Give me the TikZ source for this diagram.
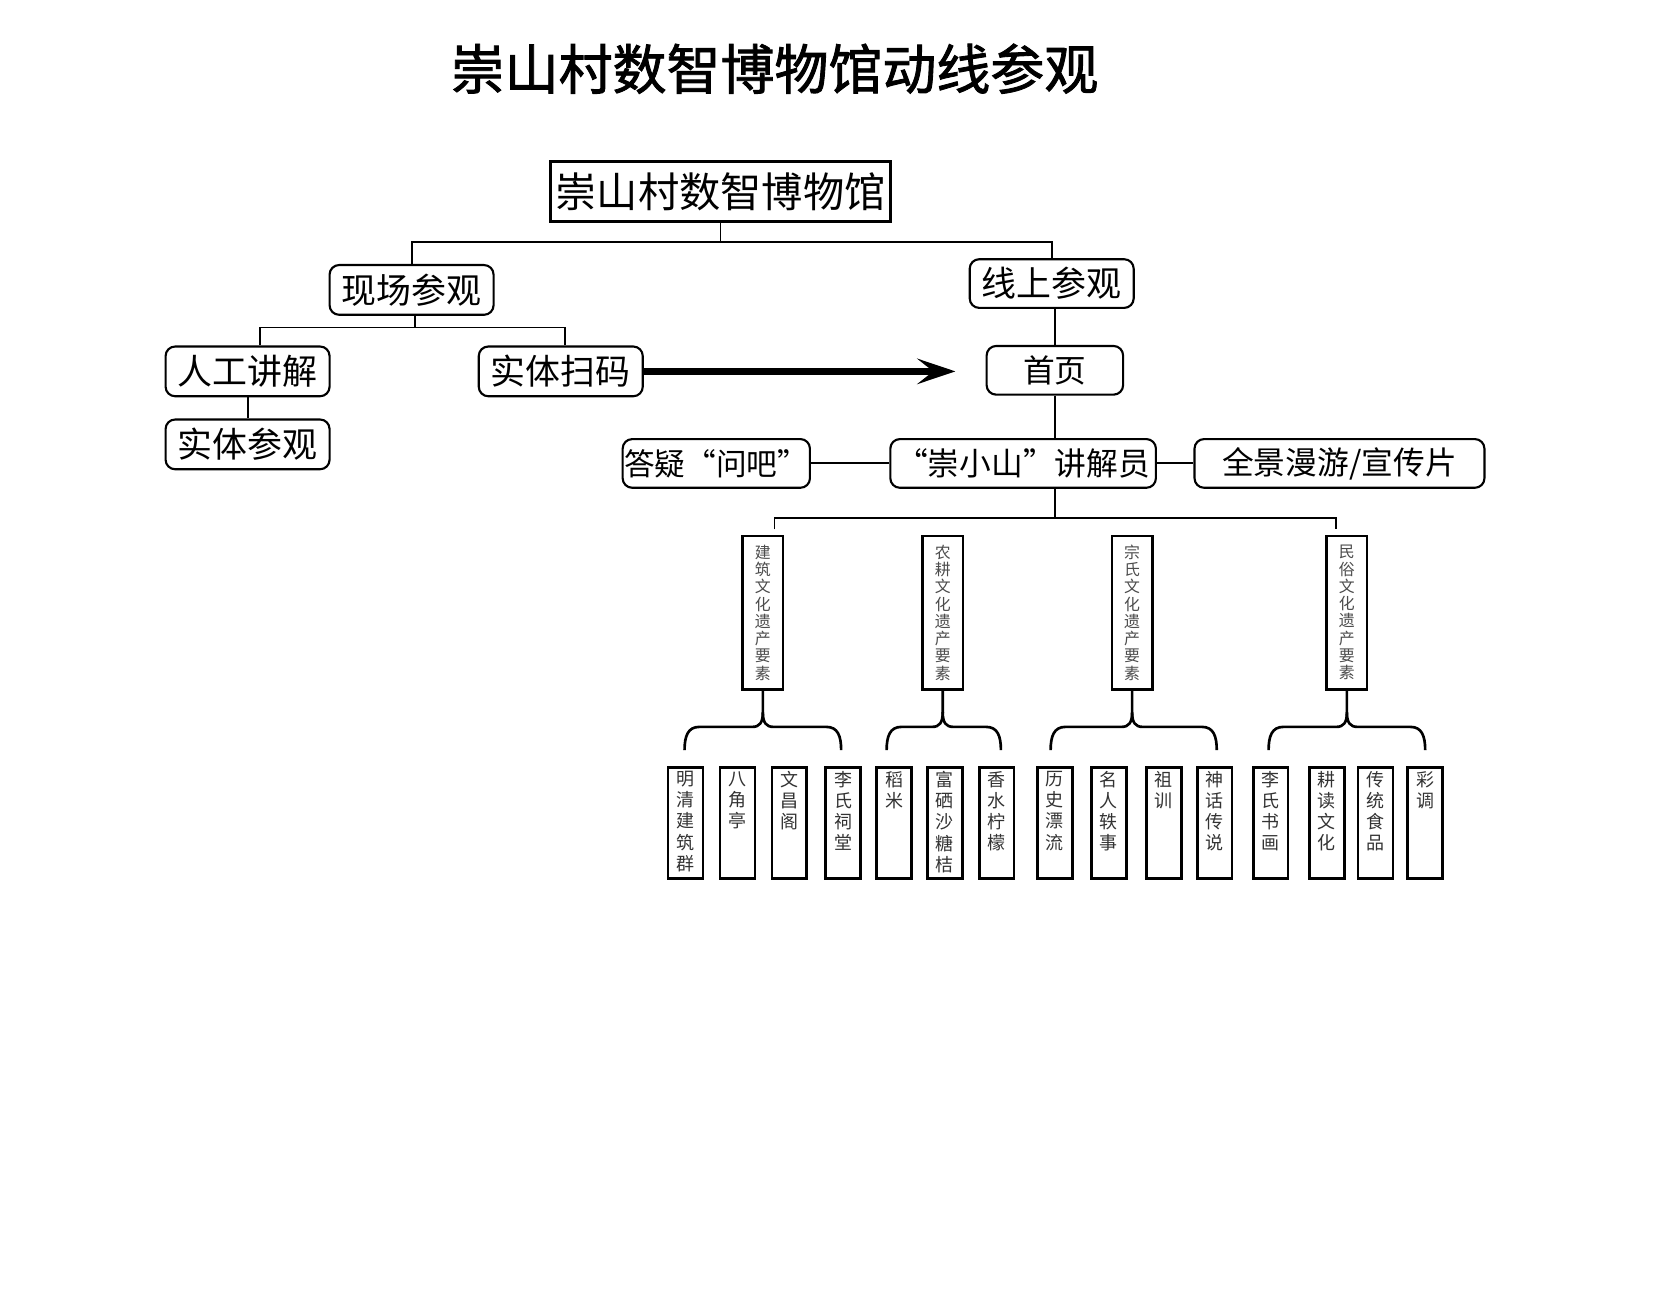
\documentclass[tikz,border=0pt]{standalone}
\usepackage{fontspec}
\usetikzlibrary{arrows.meta}
\newfontfamily\hei{Noto Sans CJK SC}
\newfontfamily\heititle[FakeBold=1.6]{Noto Sans CJK SC}
\newcommand{\leafcol}[1]{\parbox[c][98pt][t]{24pt}{\centering #1}}
\newcommand{\braceY}{687}

\tikzset{
  link/.style={line width=1.8pt},
  rbox/.style={draw, line width=2pt, rounded corners=9pt, inner sep=0pt, minimum width=155pt, minimum height=47pt, font=\hei\fontsize{33}{36}\selectfont},
  gbox/.style={rbox, minimum height=46pt, font=\hei\fontsize{30}{33}\selectfont},
  catbox/.style={draw, line width=2.5pt, minimum width=38pt, minimum height=145pt, inner sep=0pt, align=center, text=black!70, font=\hei\fontsize{15}{16.3}\selectfont},
  leafbox/.style={draw, line width=2.5pt, minimum width=33pt, minimum height=105pt, inner sep=0pt, text=black!80, font=\hei\fontsize{17}{20}\selectfont},
  brace/.style={line width=2.5pt},
  bigarrow/.style={line width=6pt, -{Stealth[length=36pt, width=24pt, inset=15pt]}},
}

\begin{document}
\begin{tikzpicture}[x=1pt, y=-1pt]
	\fill[white] (0,0) rectangle (1568,1227);
	\useasboundingbox (0,0) rectangle (1568,1227);

	% title
	\node[font=\heititle\fontsize{51}{56}\selectfont] (title) at (732,65) {崇山村数智博物馆动线参观};

	% top levels
	\node[draw, line width=3pt, inner sep=0pt, minimum width=322pt, minimum height=56pt, font=\hei\fontsize{39}{42}\selectfont] (museum) at (681,181) {崇山村数智博物馆};
	\node[rbox] (onsite) at (389,274) {现场参观};
	\node[rbox, minimum height=46pt] (online) at (994,268) {线上参观};
	\node[rbox] (manual) at (234,351) {人工讲解};
	\node[rbox] (physical) at (234,420) {实体参观};
	\node[rbox] (scan) at (530,351) {实体扫码};
	\node[gbox, minimum width=129pt] (home) at (997,350) {首页};
	\node[gbox, minimum width=251pt] (guide) at (967,438) {“崇小山”讲解员};
	\node[gbox, minimum width=177pt, font=\hei\fontsize{29}{32}\selectfont] (qa) at (677,438) {答疑“问吧”};
	\node[gbox, minimum width=274pt] (pano) at (1266,438) {全景漫游/宣传片};

	\draw[link] (museum.south) -- ++(0,18);
	\draw[link] (onsite.north) |- ([yshift=-18pt]museum.south) -| (online.north);
	\draw[link] ([xshift=3pt]onsite.south) -- ++(0,11);
	\draw[link] ([xshift=12pt]manual.north) |- ([xshift=3pt,yshift=-11pt]onsite.south) -| ([xshift=4pt]scan.north);
	\draw[link] (manual) -- (physical);
	\coordinate (arrowend) at (903,351);
	\draw[bigarrow] (scan.east) -- (arrowend);
	\draw[link] (online.south -| home.north) -- (home.north);
	\draw[link] (home.south) -- (home.south |- guide.north);
	\draw[link] (qa) -- (guide);
	\draw[link] (guide) -- (pano);

	% heritage categories
	\node[catbox] (jz) at (721,579) {建\\筑\\文\\化\\遗\\产\\要\\素};
	\node[catbox] (nk) at (891,579) {农\\耕\\文\\化\\遗\\产\\要\\素};
	\node[catbox] (zs) at (1070,579) {宗\\氏\\文\\化\\遗\\产\\要\\素};
	\node[catbox] (ms) at (1273,579) {民\\俗\\文\\化\\遗\\产\\要\\素};

	\coordinate (fork) at (997,490);
	\draw[link] (home.south |- guide.south) -- (fork);
	\draw[link] ([xshift=11pt,yshift=5pt]jz.north) |- (fork) -| ([xshift=-10pt,yshift=5pt]ms.north);

	% braces under each category
	\foreach \c/\l/\r in {jz/647/795, nk/838/946, zs/993/1150, ms/1199/1347}{
		\coordinate (m) at (\c.south |- 0,\braceY);
		\draw[brace] (\l,709) .. controls (\l,696) and (\l+3,\braceY) .. (\l+14,\braceY)
			-- ([xshift=-10pt]m) .. controls ([xshift=-3pt]m) and ([yshift=4pt]m) .. ([yshift=14pt]m) -- (\c.south);
		\draw[brace] (\r,709) .. controls (\r,696) and (\r-3,\braceY) .. (\r-14,\braceY)
			-- ([xshift=10pt]m) .. controls ([xshift=3pt]m) and ([yshift=4pt]m) .. ([yshift=14pt]m);
	}

	% leaves
	\foreach \x/\t in {648/{明\\清\\建\\筑\\群}, 697/{八\\角\\亭}, 746/{文\\昌\\阁}, 797/{李\\氏\\祠\\堂},
		845/{稻\\米}, 893/{富\\硒\\沙\\糖\\桔}, 942/{香\\水\\柠\\檬},
		997/{历\\史\\漂\\流}, 1048/{名\\人\\轶\\事}, 1100/{祖\\训}, 1148/{神\\话\\传\\说},
		1201/{李\\氏\\书\\画}, 1254/{耕\\读\\文\\化}, 1300/{传\\统\\食\\品}, 1347/{彩\\调}}{
		\node[leafbox] (leaf\x) at (\x,778) {\leafcol{\t}};
	}
\end{tikzpicture}
\end{document}
